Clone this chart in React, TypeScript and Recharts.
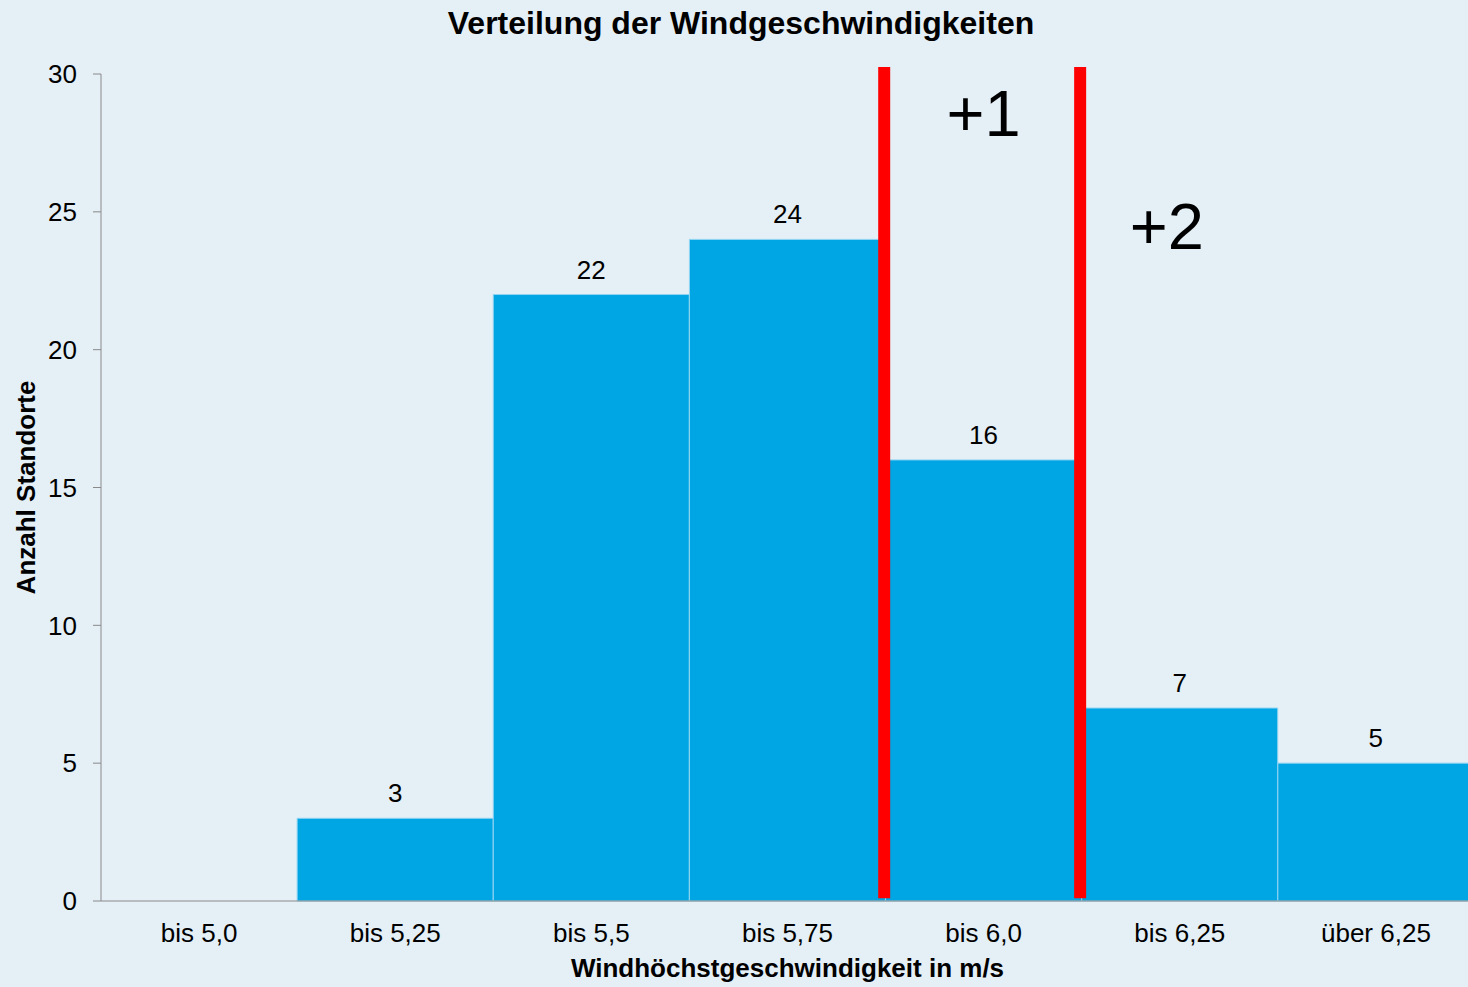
import React from 'react';
import {
  BarChart,
  Bar,
  XAxis,
  YAxis,
  LabelList,
  Label,
  ReferenceLine,
  ReferenceDot,
} from 'recharts';

// Kategorien und Werte
const categories = ['bis 5,0', 'bis 5,25', 'bis 5,5', 'bis 5,75', 'bis 6,0', 'bis 6,25', 'über 6,25'];
const counts = [0, 3, 22, 24, 16, 7, 5];
const yTicks = [0, 5, 10, 15, 20, 25, 30];

// rote Schwellenlinien (Position auf der Kategorie-Skala 0..7)
const thresholds = [3.993, 4.992];
const markerTexts = ['+1', '+2'];
const markerX = [4.5, 5.434];
const markerY = [28.6, 24.49];

const FONT = '"Liberation Sans", Arial, sans-serif';
const BG = '#e4eff6';

const chartData = categories.map((name, i) => ({ name, pos: i + 0.5, anzahl: counts[i] }));

export default function App() {
  return (
    <div
      style={{
        position: 'absolute',
        left: 0,
        top: 0,
        width: 1468,
        height: 987,
        background: BG,
        fontFamily: FONT,
        overflow: 'hidden',
      }}
    >
      <div
        style={{
          position: 'absolute',
          left: 7,
          top: 0,
          width: 1468,
          height: 46,
          lineHeight: '46px',
          textAlign: 'center',
          fontSize: 32,
          fontWeight: 'bold',
          color: '#000',
        }}
      >
        Verteilung der Windgeschwindigkeiten
      </div>
      <BarChart
        width={1468}
        height={987}
        data={chartData}
        margin={{ top: 74, right: -6, left: 0, bottom: 0 }}
        barCategoryGap={0}
        style={{ position: 'absolute', left: 0, top: 0 }}
      >
        <XAxis
          xAxisId="cat"
          dataKey="name"
          height={86}
          stroke="#8a8a8a"
          tickLine={false}
          tickSize={0}
          tickMargin={23}
          tick={{ fill: '#000', fontSize: 26, fontFamily: FONT }}
        >
          <Label
            value="Windhöchstgeschwindigkeit in m/s"
            position="insideBottom"
            offset={10}
            style={{ fill: '#000', fontSize: 26, fontWeight: 'bold', fontFamily: FONT }}
          />
        </XAxis>
        <XAxis
          xAxisId="pos"
          dataKey="pos"
          type="number"
          domain={[0, 7]}
          allowDataOverflow
          hide
        />
        <YAxis
          width={101}
          domain={[0, 30]}
          ticks={yTicks}
          interval={0}
          stroke="#8a8a8a"
          tickSize={8}
          tickMargin={16}
          tick={{ fill: '#000', fontSize: 26, fontFamily: FONT }}
        >
          <Label
            value="Anzahl Standorte"
            angle={-90}
            position="center"
            dx={-25}
            style={{ fill: '#000', fontSize: 26, fontWeight: 'bold', fontFamily: FONT, textAnchor: 'middle' }}
          />
        </YAxis>
        <Bar
          xAxisId="cat"
          dataKey="anzahl"
          fill="#00a6e3"
          stroke="#8fd4f2"
          strokeWidth={1}
          isAnimationActive={false}
        >
          <LabelList
            dataKey="anzahl"
            position="top"
            offset={16}
            formatter={(v: number) => (v > 0 ? v : '')}
            style={{ fill: '#000', fontSize: 26, fontFamily: FONT }}
          />
        </Bar>
        {thresholds.map((t) => (
          <ReferenceLine
            key={t}
            xAxisId="pos"
            segment={[
              { x: t, y: 0.1 },
              { x: t, y: 30.25 },
            ]}
            stroke="#ff0000"
            strokeWidth={12}
            ifOverflow="visible"
          />
        ))}
        {markerTexts.map((txt, i) => (
          <ReferenceDot
            key={txt}
            xAxisId="pos"
            x={markerX[i]}
            y={markerY[i]}
            r={0}
            fill="none"
            stroke="none"
            ifOverflow="visible"
            label={{
              value: txt,
              position: 'center',
              style: { fill: '#000', fontSize: 65, fontFamily: FONT },
            }}
          />
        ))}
      </BarChart>
    </div>
  );
}
